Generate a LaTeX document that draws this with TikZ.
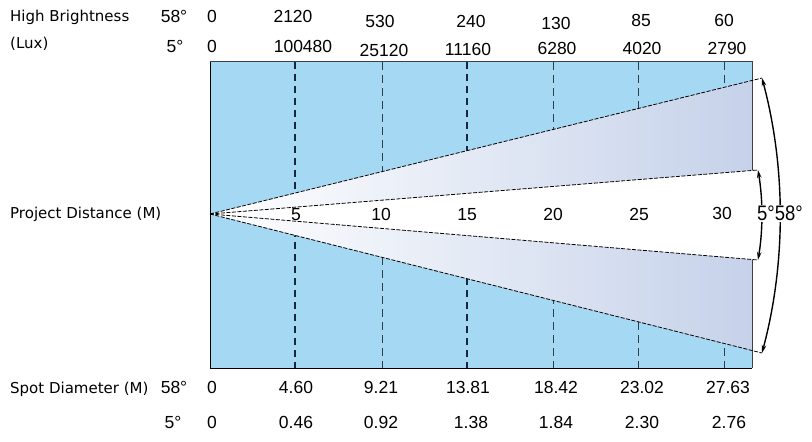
\documentclass[tikz,border=0pt]{standalone}
\usepackage{fontspec}
\setmainfont{Liberation Sans}
\newfontfamily\lblfont{DejaVu Sans}
\usetikzlibrary{arrows.meta,calc}
\definecolor{skyb}{RGB}{165,217,243}
\definecolor{beamlav}{RGB}{198,210,234}
\definecolor{dashnavy}{RGB}{25,40,58}
\definecolor{edgegray}{RGB}{60,66,74}
\begin{document}
\begin{tikzpicture}[x=1bp,y=-1bp,
  num/.style={anchor=base,inner sep=0pt,font=\fontsize{17.5bp}{20bp}\selectfont},
  lbl/.style={anchor=base west,inner sep=0pt,font=\lblfont\fontsize{15bp}{18bp}\selectfont},
  beamline/.style={line width=0.8bp,dash pattern=on 4bp off 1.5bp},
  gridthick/.style={dashnavy,line width=2.2bp,dash pattern=on 7bp off 5bp},
  gridthin/.style={dashnavy!90,line width=0.9bp,dash pattern=on 8bp off 5bp},
  sweep/.style={line width=1.4bp,{Stealth[length=8bp,width=4.5bp]}-{Stealth[length=8bp,width=4.5bp]}}]
\useasboundingbox (0,0) rectangle (812,442);
% key points
\coordinate (BL) at (210,368);
\coordinate (TR) at (752,62);
\coordinate (TL) at (210,62);
\coordinate (BR) at (752,368);
\coordinate (A) at (210,214);
\coordinate (OT) at (762,78);
\coordinate (OB) at (762,353);
\coordinate (OTc) at (752,80.5);
\coordinate (OBc) at (752,350.5);
\coordinate (IT) at (758,170);
\coordinate (IB) at (758,260);
% background box
\fill[skyb] (TL) rectangle (BR);
% distance grid lines
\foreach \x/\s [count=\i] in {295/gridthick,382/gridthin,467/gridthick,553/gridthin,638/gridthin,724/gridthin}{
  \coordinate (g\i t) at (\x,62);
  \coordinate (g\i b) at (\x,368);
  \draw[\s] (g\i t) -- (g\i b);
}
% outer (58 deg) beam
\shade[left color=white,right color=beamlav] (A) -- (OTc) -- (OBc) -- cycle;
% box outline
\draw[black,line width=1bp] (TL) -- (BL) -- (BR);
\draw[edgegray,line width=1bp] (TL) -- (TR) -- (BR);
% inner (5 deg) beam
\fill[white] (A) -- (IT) -- (IB) -- cycle;
\draw[beamline] (A) -- (OT);
\draw[beamline] (A) -- (OB);
\draw[beamline] (A) -- (IT);
\draw[beamline] (A) -- (IB);
% angle arcs
\draw[sweep] (OT) .. controls ($(OT)+(24,90)$) and ($(OB)+(24,-90)$) .. (OB);
\draw[sweep] (IT) .. controls ($(IT)+(5,30)$) and ($(IB)+(5,-30)$) .. (IB);
% left labels
\node[lbl] (hb) at (10,22) {High Brightness};
\node[lbl] (lux) at (10,49) {(Lux)};
\node[lbl] (pd) at (10,219) {Project Distance (M)};
\node[lbl] (sd) at (10,393) {Spot Diameter (M)};
% angle column
\node[num] (a1) at (174,23) {58°};
\node[num] (a2) at (175,53) {5°};
\node[num] (a3) at (174,393) {58°};
\node[num] (a4) at (173,428) {5°};
% zero column
\node[num] (z1) at (212,23) {0};
\node[num] (z2) at (212,53) {0};
\node[num] (z3) at (212,393) {0};
\node[num] (z4) at (212,428) {0};
% lux 58
\node[num] (l1) at (293,23) {2120};
\node[num] (l2) at (380,28) {530};
\node[num] (l3) at (471,28) {240};
\node[num] (l4) at (556,30) {130};
\node[num] (l5) at (641,27) {85};
\node[num] (l6) at (724,27) {60};
% lux 5
\node[num] (m1) at (303,53) {100480};
\node[num] (m2) at (384,57) {25120};
\node[num] (m3) at (468,56) {11160};
\node[num] (m4) at (557,55) {6280};
\node[num] (m5) at (642,55) {4020};
\node[num] (m6) at (727,55) {2790};
% distances
\node[num] (d1) at (296,221) {5};
\node[num] (d2) at (381,221) {10};
\node[num] (d3) at (467,221) {15};
\node[num] (d4) at (553,221) {20};
\node[num] (d5) at (639,221) {25};
\node[num] (d6) at (722,220) {30};
% spot 58
\node[num] (s1) at (296,393) {4.60};
\node[num] (s2) at (381,393) {9.21};
\node[num] (s3) at (468,393) {13.81};
\node[num] (s4) at (556,393) {18.42};
\node[num] (s5) at (642,393) {23.02};
\node[num] (s6) at (728,393) {27.63};
% spot 5
\node[num] (t1) at (296,428) {0.46};
\node[num] (t2) at (381,428) {0.92};
\node[num] (t3) at (471,428) {1.38};
\node[num] (t4) at (556,428) {1.84};
\node[num] (t5) at (642,428) {2.30};
\node[num] (t6) at (729,428) {2.76};
% angle labels on the right
\node[anchor=base west,fill=white,inner sep=1bp] (ang) at (756,221)
  {\scalebox{0.88}[1]{\fontsize{21bp}{24bp}\selectfont 5°58°}};
\end{tikzpicture}
\end{document}
